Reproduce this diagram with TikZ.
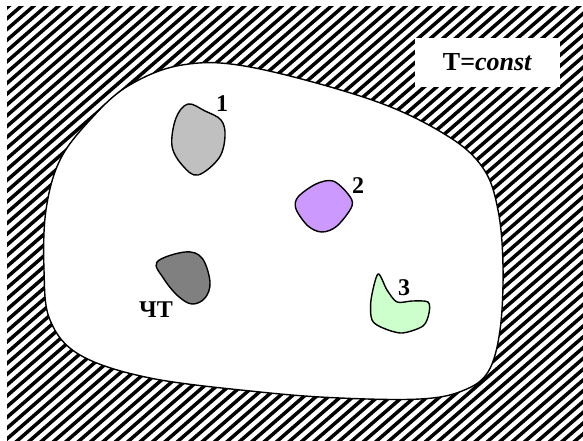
\documentclass[tikz,border=0pt]{standalone}
\usepackage{fontspec}
\setmainfont{Liberation Serif}
\begin{document}
\begin{tikzpicture}[x=1pt,y=-1pt,
  outline/.style={draw=black,line width=1.4pt},
  lbl/.style={font=\fontsize{24}{26}\selectfont\bfseries,inner sep=0pt},
  hatchline/.style={line width=3.5pt,black}]
\useasboundingbox (0,0) rectangle (583,441);
% hatching
\begin{scope}
\clip (7,7) rectangle (583,441);
\foreach \i in {-45,...,50}{
  \draw[hatchline] (\i*12.4,445) -- ++(620,-539);
}
\end{scope}
% text box
\fill[white] (415,38) rectangle (560,87);
\node[font=\fontsize{26}{28}\selectfont\bfseries,inner sep=0pt] (tc) at (487.5,62) {T=\textit{const}};
% main region
\draw[outline,fill=white] plot[smooth cycle,tension=0.6] coordinates {
  (182,65) (250,67) (372,100) (446,135) (483,168) (498,210) (503,267)
  (500,330) (488,372) (462,391) (420,399) (340,398) (260,392) (150,378)
  (80,355) (50,320) (44,270) (46,210) (60,160) (90,120) (128,86)};
% body 1
\draw[outline,fill={rgb,255:red,192;green,192;blue,192}] plot[smooth cycle,tension=0.6] coordinates {
  (188,104) (205,111) (221,120) (225,136) (219,158) (198,175) (183,166) (172,146) (176,118)};
\node[lbl] (l1) at (222,104) {1};
% body 2
\draw[outline,fill={rgb,255:red,204;green,153;blue,255}] plot[smooth cycle,tension=0.55] coordinates {
  (333,181) (348,194) (352,206) (337,226) (322,232) (308,226) (296,209) (298,197) (316,184)};
\node[lbl] (l2) at (358,186) {2};
% black body
\draw[outline,fill={rgb,255:red,128;green,128;blue,128}] plot[smooth cycle,tension=0.6] coordinates {
  (157,262) (185,252) (202,258) (210,282) (205,298) (192,304) (178,296) (164,279)};
\node[lbl] (lct) at (156,310) {ЧТ};
% body 3
\draw[outline,fill={rgb,255:red,204;green,255;blue,204}] plot[smooth cycle,tension=0.5] coordinates {
  (378,274) (387,290) (397,302) (412,301) (428,302) (429,313) (423,326) (402,333) (383,328) (372,320) (371,300)};
\node[lbl] (l3) at (404,288) {3};
\end{tikzpicture}
\end{document}
